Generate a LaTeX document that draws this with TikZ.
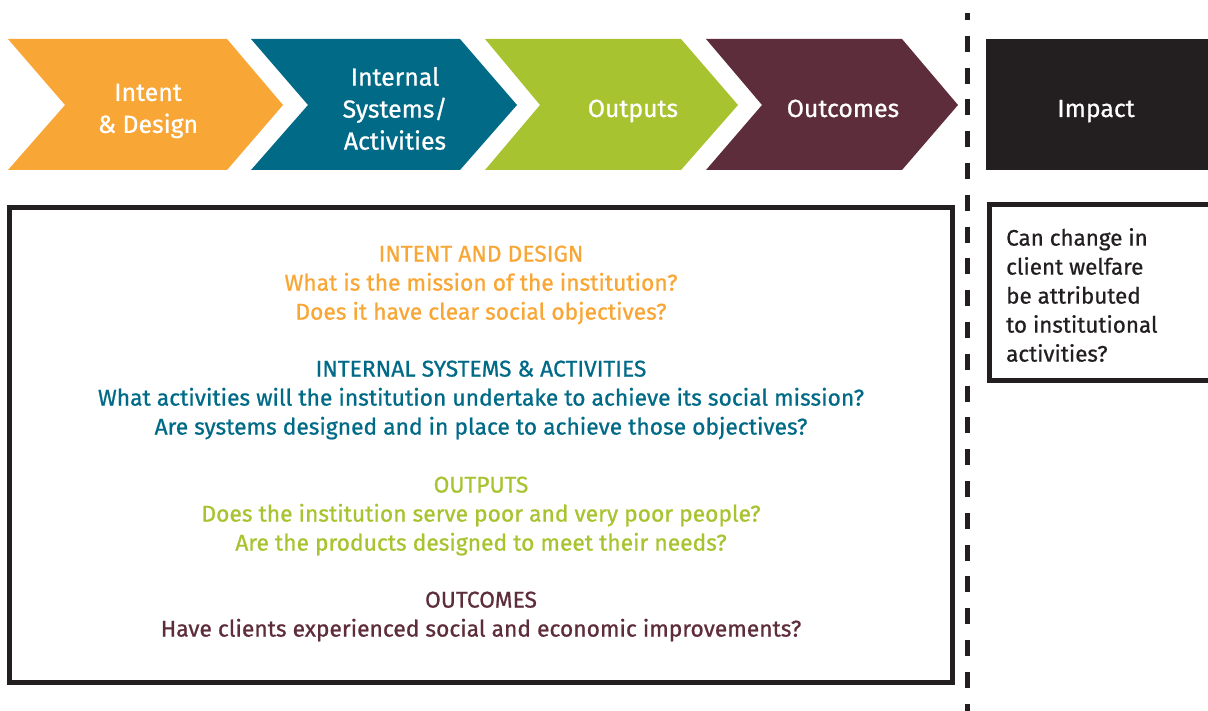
\documentclass[tikz,border=0pt]{standalone}
\usepackage{fontspec}
\setmainfont{Fira Sans}[FakeBold=0.8]
\definecolor{cOrange}{RGB}{248,166,53}
\definecolor{cTeal}{RGB}{0,106,135}
\definecolor{cGreen}{RGB}{168,195,48}
\definecolor{cMaroon}{RGB}{94,45,59}
\definecolor{cDark}{RGB}{35,31,32}
\begin{document}
\begin{tikzpicture}[x=1pt,y=-1pt,
  chevtext/.style={text=white,font=\fontsize{24.8}{32}\selectfont,align=center,inner sep=0pt},
  bodytext/.style={font=\fontsize{22.8}{29}\selectfont,align=center,inner sep=0pt},
  sidetext/.style={font=\fontsize{22.4}{29}\selectfont,align=left,inner sep=0pt},
  frame/.style={draw=cDark,line width=5pt}]
\useasboundingbox (0,0) rectangle (1208,711);
% chevrons
\fill[cOrange] (8,39) -- (227,39) -- (283,105) -- (227,170) -- (8,170) -- (65,105) -- cycle;
\fill[cTeal] (251,39) -- (460,39) -- (517,105) -- (460,170) -- (251,170) -- (308,105) -- cycle;
\fill[cGreen] (485,39) -- (681,39) -- (738,105) -- (681,170) -- (485,170) -- (540,105) -- cycle;
\fill[cMaroon] (706,39) -- (902,39) -- (958,105) -- (902,170) -- (706,170) -- (762,105) -- cycle;
\fill[cDark] (986,39) rectangle (1208,170);
\node[chevtext] (intent) at (148,111) {Intent\\\& Design};
\node[chevtext] (internal) at (395,108.5) {Internal\\Systems/\\Activities};
\node[chevtext,anchor=base] (outputs) at (633,117) {Outputs};
\node[chevtext,anchor=base] (outcomes) at (843,117) {Outcomes};
\node[chevtext,anchor=base] (impact) at (1096,117) {Impact};
% dashed separator
\coordinate (dtop) at (967,13);
\coordinate (dbot) at (967,711);
\draw[cDark,line width=5pt,dash pattern=on 16pt off 15.8pt,dash phase=9pt] (dtop) -- (dbot);
% main box
\draw[frame] (9.5,207.5) rectangle (952.5,682.5);
\node[bodytext,text=cOrange] (s1) at (481,285) {INTENT AND DESIGN\\What is the mission of the institution?\\Does it have clear social objectives?};
\node[bodytext,text=cTeal] (s2) at (481,400) {INTERNAL SYSTEMS \& ACTIVITIES\\What activities will the institution undertake to achieve its social mission?\\Are systems designed and in place to achieve those objectives?};
\node[bodytext,text=cGreen] (s3) at (481,516) {OUTPUTS\\Does the institution serve poor and very poor people?\\Are the products designed to meet their needs?};
\node[bodytext,text=cMaroon] (s4) at (481,616.5) {OUTCOMES\\Have clients experienced social and economic improvements?};
% impact box
\draw[frame] (1208,204.5) -- (989.5,204.5) -- (989.5,380.5) -- (1208,380.5);
\node[sidetext,anchor=west,text=cDark] (q) at (1006,295) {Can change in\\client welfare\\be attributed\\to institutional\\activities?};
\end{tikzpicture}
\end{document}
